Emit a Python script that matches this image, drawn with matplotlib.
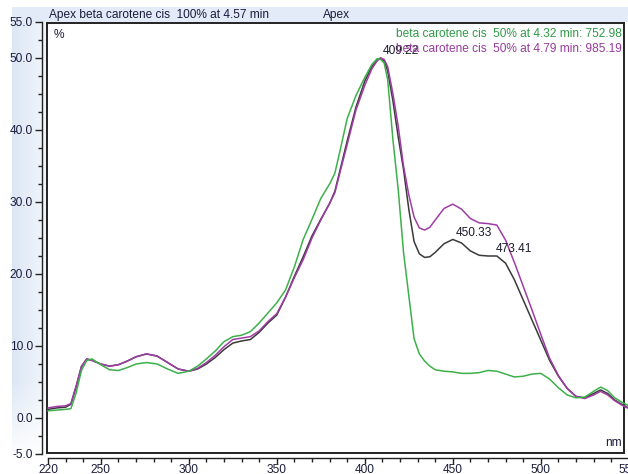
import numpy as np
import matplotlib
matplotlib.use("Agg")
import matplotlib.pyplot as plt
from matplotlib.ticker import MultipleLocator, FixedLocator, FuncFormatter

plt.rcParams['font.family'] = ['Liberation Sans', 'DejaVu Sans']

# Wavelength grid (nm)
wavelength = [220, 225, 230, 233, 236, 239, 242, 245, 250, 255, 260, 265, 270, 276,
              282, 288, 294, 300, 305, 310, 315, 320, 325, 330, 335, 340, 345, 350,
              355, 360, 365, 370, 375, 380, 383, 386, 390, 395, 400, 404, 407, 409,
              411, 413, 416, 419, 422, 425, 428, 431, 434, 437, 440, 445, 450, 455,
              460, 465, 470, 475, 480, 485, 490, 495, 500, 505, 510, 515, 520, 525,
              530, 534, 538, 542, 546, 550]

# Spectrum at 4.32 min (green)
green_pct = [1.0, 1.1, 1.2, 1.3, 3.5, 6.6, 8.0, 8.2, 7.4, 6.7, 6.6, 7.0, 7.5, 7.7,
             7.5, 6.8, 6.2, 6.5, 7.2, 8.2, 9.3, 10.6, 11.3, 11.5, 12.0, 13.2, 14.6, 16.0,
             17.8, 21.0, 24.8, 27.6, 30.5, 32.5, 34.0, 37.2, 41.6, 44.8, 47.3, 49.1, 49.9, 49.8,
             49.3, 47.0, 38.6, 31.7, 23.0, 17.0, 11.0, 8.9, 7.9, 7.2, 6.7, 6.5, 6.4, 6.2,
             6.2, 6.3, 6.6, 6.5, 6.1, 5.7, 5.8, 6.1, 6.2, 5.4, 4.2, 3.2, 2.8, 2.9,
             3.7, 4.3, 3.8, 2.8, 2.2, 1.7]

# Apex spectrum at 4.57 min (black)
black_pct = [1.2, 1.4, 1.5, 1.9, 4.3, 7.1, 8.2, 8.0, 7.5, 7.2, 7.4, 7.9, 8.5, 8.9,
             8.6, 7.7, 6.8, 6.5, 6.8, 7.5, 8.4, 9.5, 10.4, 10.7, 10.9, 11.9, 13.2, 14.3,
             16.8, 19.7, 22.4, 25.3, 27.6, 29.8, 31.5, 34.5, 38.5, 43.2, 46.8, 48.8, 49.7, 50.0,
             49.6, 48.2, 44.0, 39.0, 34.5, 29.0, 24.5, 22.8, 22.3, 22.4, 23.0, 24.2, 24.8, 24.3,
             23.2, 22.6, 22.5, 22.5, 21.5, 19.2, 16.4, 13.6, 10.8, 8.0, 5.8, 4.1, 3.0, 2.8,
             3.4, 3.9, 3.4, 2.5, 1.9, 1.4]

# Spectrum at 4.79 min (purple)
purple_pct = [1.4, 1.6, 1.7, 2.0, 4.5, 7.2, 8.2, 8.0, 7.5, 7.2, 7.4, 7.9, 8.5, 8.9,
              8.6, 7.7, 6.8, 6.5, 6.9, 7.7, 8.7, 9.9, 10.9, 11.1, 11.3, 12.1, 13.4, 14.5,
              16.8, 19.5, 22.0, 25.0, 27.5, 29.8, 31.3, 34.2, 38.0, 42.8, 46.2, 48.5, 49.6, 50.0,
              49.8, 48.8, 45.0, 40.5, 35.0, 31.0, 27.9, 26.4, 26.1, 26.5, 27.5, 29.1, 29.7, 29.0,
              27.7, 27.1, 27.0, 26.8, 24.7, 21.6, 18.3, 15.0, 11.6, 8.3, 5.9, 4.1, 3.0, 2.7,
              3.2, 3.7, 3.2, 2.4, 1.8, 1.3]

peak_nm = [409.22, 450.33, 473.41]
peak_pct = [50.0, 24.8, 22.5]

title_text = "Apex beta carotene cis  100% at 4.57 min"
legend_green = "beta carotene cis  50% at 4.32 min: 752.98"
legend_purple = "beta carotene cis  50% at 4.79 min: 985.19"

W, H = 628, 474
FS = 8.6
fig = plt.figure(figsize=(W / 100, H / 100), dpi=100)
fig.patch.set_facecolor('white')


def box(x0, y0, x1, y1):
    """Pixel box (top-left origin) -> figure fraction rect."""
    return [x0 / W, 1 - y1 / H, (x1 - x0) / W, (y1 - y0) / H]


# Light-blue panel strips (top band and left gutter)
bg = np.ones((H, W, 3))
top_col = np.array([0.89, 0.925, 0.97])
bg[7:22, 12:, :] = top_col
cols = np.linspace(0.0, 1.0, 35)[None, :, None]
left_a = np.array([0.86, 0.905, 0.96])
left_b = np.array([0.95, 0.965, 0.985])
strip = left_a * (1 - cols) + left_b * cols
rows = np.clip((np.arange(22, 462) - 380) / 80.0, 0, 1)[:, None, None]
bg[22:462, 12:47, :] = strip * (1 - rows) + 1.0 * rows
fig.figimage(bg, xo=0, yo=0, origin='upper', zorder=-10)

text_col = '#1b1b3a'

# Framed plotting area
x_lo = 220 + (47 - 48) / 1.76
x_hi = 220 + (624 - 48) / 1.76
ax = fig.add_axes(box(47, 23, 624, 453))
ax.set_xlim(x_lo, x_hi)
ax.set_ylim((418 - 453) / 7.2, (418 - 23) / 7.2)
ax.set_xticks([])
ax.set_yticks([])
for s in ax.spines.values():
    s.set_linewidth(1.4)
    s.set_color('#222222')
ax.set_zorder(2)

ax.plot(wavelength, black_pct, color='#3a3a3a', lw=1.1, clip_on=False, zorder=3)
ax.plot(wavelength, purple_pct, color='#a03ca6', lw=1.1, clip_on=False, zorder=4)
ax.plot(wavelength, green_pct, color='#3db04a', lw=1.1, clip_on=False, zorder=5)

for nm, v in zip(peak_nm, peak_pct):
    ax.annotate(f"{nm:.2f}", (nm, v), xytext=(1.5, 0.5), textcoords='offset points',
                ha='left', va='bottom', fontsize=FS, color='#1b1b2a', zorder=6)

# Separate y axis with ticks
ay = fig.add_axes(box(42, 22, 42.01, 454))
ay.set_zorder(3)
ay.set_ylim(-5, 55)
ay.patch.set_alpha(0)
for k in ('top', 'right', 'bottom'):
    ay.spines[k].set_visible(False)
ay.spines['left'].set_color('#222222')
ay.spines['left'].set_linewidth(1.0)
ay.set_xticks([])
ay.yaxis.set_major_locator(FixedLocator([-5, 0, 10, 20, 30, 40, 50, 55]))
ay.yaxis.set_minor_locator(MultipleLocator(2.5))
ay.yaxis.set_major_formatter(FuncFormatter(lambda v, p: f"{v:.1f}"))
ay.tick_params(axis='y', which='major', length=5, width=1.0, color='#222222',
               labelsize=FS, labelcolor=text_col, pad=1.5)
ay.tick_params(axis='y', which='minor', length=3, width=1.0, color='#222222')

# Separate x axis with ticks
axx = fig.add_axes(box(48, 458, 48 + 330 * 1.76, 458.01))
axx.set_zorder(3)
axx.set_xlim(220, 550)
axx.patch.set_alpha(0)
for k in ('top', 'right', 'left'):
    axx.spines[k].set_visible(False)
axx.spines['bottom'].set_color('#222222')
axx.spines['bottom'].set_linewidth(1.0)
axx.set_yticks([])
axx.xaxis.set_major_locator(FixedLocator([220, 250, 300, 350, 400, 450, 500, 550]))
axx.xaxis.set_minor_locator(MultipleLocator(10))
axx.tick_params(axis='x', which='major', length=4, width=1.0, color='#222222',
                labelsize=FS, labelcolor=text_col, pad=0.2)
axx.tick_params(axis='x', which='minor', length=3, width=1.0, color='#222222')

# Header and annotations
fig.text(49 / W, 1 - 15 / H, title_text, ha='left', va='center', fontsize=FS, color=text_col)
fig.text(323 / W, 1 - 15 / H, "Apex", ha='left', va='center', fontsize=FS, color=text_col)
fig.text(622 / W, 1 - 34 / H, legend_green, ha='right', va='center', fontsize=FS,
         color='#2f9a45', zorder=7)
fig.text(622 / W, 1 - 48.5 / H, legend_purple, ha='right', va='center', fontsize=FS,
         color='#983a9c', zorder=7)
fig.text(54 / W, 1 - 35 / H, "%", ha='left', va='center', fontsize=FS, color=text_col, zorder=7)
fig.text(622 / W, 1 - 443 / H, "nm", ha='right', va='center', fontsize=FS, color=text_col, zorder=7)

fig.savefig("out.png", dpi=100, facecolor='white')
